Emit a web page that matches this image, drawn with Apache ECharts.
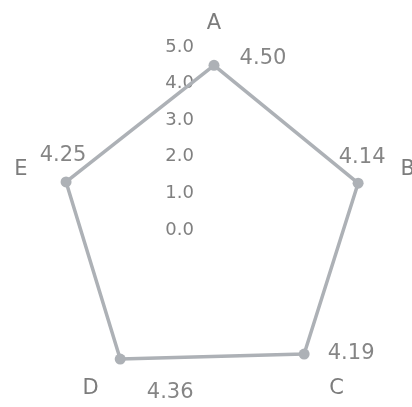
<!DOCTYPE html>
<html>
<head>
  <meta charset="utf-8">
  <title>radar</title>
  <script src="https://cdn.jsdelivr.net/npm/echarts@6/dist/echarts.min.js"></script>
  <style>
    html, body { margin: 0; padding: 0; background: #fff; }
    #chart { width: 412px; height: 407px; }
  </style>
</head>
<body>
  <div id="chart"></div>
  <script>
    // data
    var names = ['A', 'B', 'C', 'D', 'E'];
    var values = [4.50, 4.14, 4.19, 4.36, 4.25];
    var scaleMax = 5;
    var scaleStep = 1;

    // where each value label sits relative to its point (A..E)
    var labelOffsets = [[49, -7], [4, -26], [47, -1], [50, 33], [-3, -26]];

    var center = [214, 230];
    var radius = 183;
    var lineColor = '#adb1b6';
    var font = 'DejaVu Sans';

    // radar goes counter-clockwise from the top, reference goes clockwise
    var order = [0, 4, 3, 2, 1];
    var indicators = order.map(function (i) {
      return { name: names[i], min: 0, max: scaleMax };
    });
    var radarValues = order.map(function (i) { return values[i]; });

    var labelData = values.map(function (v, i) {
      return {
        value: [v, i * 360 / names.length],
        label: { offset: labelOffsets[i] }
      };
    });

    var chart = echarts.init(document.getElementById('chart'), null, { renderer: 'canvas' });
    chart.setOption({
      backgroundColor: '#fff',
      animation: false,
      radar: {
        center: center,
        radius: radius,
        startAngle: 90,
        splitNumber: 5,
        indicator: indicators,
        nameGap: 13,
        axisName: { color: '#7c7c7c', fontSize: 21, fontFamily: font },
        axisLine: { show: false },
        axisTick: { show: false },
        axisLabel: { show: false },
        splitLine: { show: false },
        splitArea: { show: false }
      },
      polar: { center: center, radius: radius },
      angleAxis: {
        type: 'value', min: 0, max: 360, startAngle: 90, clockwise: true,
        axisLine: { show: false }, axisTick: { show: false },
        axisLabel: { show: false }, splitLine: { show: false }
      },
      radiusAxis: {
        type: 'value', min: 0, max: scaleMax, interval: scaleStep,
        axisLine: { show: false }, axisTick: { show: false }, splitLine: { show: false },
        axisLabel: {
          color: '#808080', fontSize: 18, fontFamily: font, margin: 20,
          formatter: function (v) { return v.toFixed(1); }
        }
      },
      series: [{
        type: 'radar',
        symbol: 'circle',
        symbolSize: 11,
        lineStyle: { color: lineColor, width: 3.5 },
        itemStyle: { color: lineColor },
        data: [{ value: radarValues }]
      }, {
        type: 'scatter',
        coordinateSystem: 'polar',
        symbolSize: 0,
        silent: true,
        label: {
          show: true, position: 'inside',
          color: '#666666', fontSize: 21, fontFamily: font,
          formatter: function (p) { return p.value[0].toFixed(2); }
        },
        data: labelData
      }]
    });
  </script>
</body>
</html>
